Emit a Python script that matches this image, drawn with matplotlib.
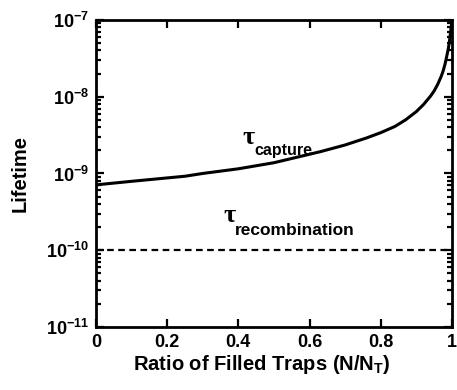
import numpy as np
import matplotlib.pyplot as plt

plt.rcParams['font.family'] = ['Liberation Sans', 'DejaVu Sans']
plt.rcParams['font.weight'] = 'bold'
plt.rcParams['mathtext.fontset'] = 'custom'
plt.rcParams['mathtext.rm'] = 'Liberation Sans:bold'
plt.rcParams['mathtext.bf'] = 'Liberation Sans:bold'
plt.rcParams['mathtext.default'] = 'bf'

# valeurs
ratio = [0, 0.1, 0.25, 0.3, 0.4, 0.5, 0.63, 0.7, 0.76, 0.8, 0.84, 0.87, 0.9,
         0.92, 0.94, 0.95, 0.96, 0.97, 0.975, 0.98, 0.985, 0.99, 0.993,
         0.997, 1.0]
tau_capture = [7.1e-10, 7.9e-10, 9.2e-10, 1.0e-9, 1.15e-9, 1.38e-9, 1.92e-9,
               2.35e-9, 2.9e-9, 3.4e-9, 4.1e-9, 5.0e-9, 6.4e-9,
               7.9e-9, 1.02e-8, 1.19e-8, 1.45e-8, 1.85e-8, 2.15e-8, 2.6e-8,
               3.3e-8, 4.3e-8, 5.3e-8, 7.5e-8, 1.0e-7]
ratio_rec = [0, 1]
tau_rec = [1e-10, 1e-10]

yticks = [1e-11, 1e-10, 1e-9, 1e-8, 1e-7]
ytick_labels = ['$10^{-11}$', '$10^{-10}$', '$10^{-9}$', '$10^{-8}$', '$10^{-7}$']
xticks = [0, 0.2, 0.4, 0.6, 0.8, 1]
xtick_labels = ['0', '0.2', '0.4', '0.6', '0.8', '1']

fig = plt.figure(figsize=(4.57, 3.9), dpi=100)
ax = fig.add_axes([0.210, 0.1615, 0.779, 0.7875])

ax.plot(ratio, tau_capture, color='black', lw=2.2)
ax.plot(ratio_rec, tau_rec, color='black', lw=1.6, ls=(0, (3, 2)))

ax.set_yscale('log')
ax.set_xlim(0, 1)
ax.set_ylim(1e-11, 1e-7)
ax.set_xticks(xticks)
ax.set_xticklabels(xtick_labels)
ax.set_yticks(yticks)
ax.set_yticklabels(ytick_labels)
ax.tick_params(which='both', direction='in', top=True, right=True,
               labelsize=13, width=1.6)
ax.tick_params(which='major', length=6, pad=5)
ax.tick_params(which='minor', length=3.5)
ax.tick_params(axis='x', which='minor', bottom=False, top=False)
for s in ax.spines.values():
    s.set_linewidth(2)

ax.set_xlabel('Ratio of Filled Traps (N/N$_T$)', fontsize=14.5, fontweight='bold')
ax.xaxis.set_label_coords(0.465, -0.085, transform=ax.transAxes)
ax.xaxis.label.set_va('top')
ax.set_ylabel('Lifetime', fontsize=14.5, fontweight='bold', labelpad=12)

# etiquettes tau
ax.text(0.412, 2.45e-9, '\u03c4', family=['Liberation Serif', 'DejaVu Serif'],
        fontsize=19, fontweight='bold', ha='left', va='baseline')
ax.text(0.446, 1.72e-9, 'capture', fontsize=11.5, fontweight='bold', ha='left', va='baseline')
ax.text(0.357, 2.3e-10, '\u03c4', family=['Liberation Serif', 'DejaVu Serif'],
        fontsize=19, fontweight='bold', ha='left', va='baseline')
ax.text(0.39, 1.6e-10, 'recombination', fontsize=12.5, fontweight='bold', ha='left', va='baseline')

fig.savefig('out.png', dpi=100)
